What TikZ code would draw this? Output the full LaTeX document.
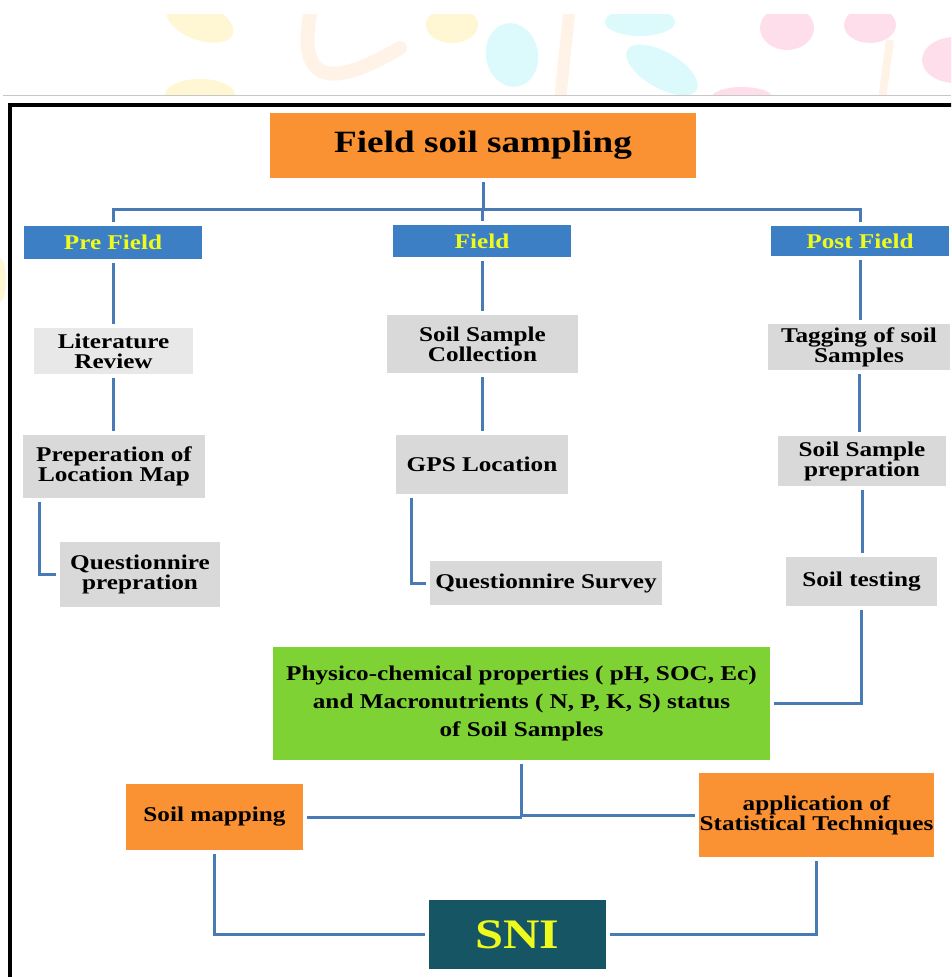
\documentclass[tikz,border=0pt]{standalone}
\usepackage{fontspec}
\setmainfont{Liberation Serif}[FakeStretch=1.2]
\definecolor{orangeB}{RGB}{250,145,50}
\definecolor{blueB}{RGB}{60,127,196}
\definecolor{yellowT}{RGB}{238,250,30}
\definecolor{grayB}{RGB}{217,217,217}
\definecolor{grayL}{RGB}{232,232,232}
\definecolor{lineC}{RGB}{72,122,182}
\definecolor{greenB}{RGB}{126,210,52}
\definecolor{tealB}{RGB}{22,86,100}
\definecolor{leafY}{RGB}{255,247,212}
\definecolor{leafC}{RGB}{220,250,252}
\definecolor{leafP}{RGB}{255,222,236}
\definecolor{leafO}{RGB}{255,243,232}
\tikzset{
  box/.style={draw=none, inner sep=0pt, align=center, font=\bfseries\fontsize{21}{20}\selectfont},
  hdr/.style={box, fill=blueB, text=yellowT, font=\bfseries\fontsize{21}{21}\selectfont},
  graybox/.style={box, fill=grayB},
  conn/.style={draw=lineC, line width=3pt, shorten <=4pt, shorten >=4pt}
}
\begin{document}
\begin{tikzpicture}[x=1pt,y=-1pt]
\clip (0,0) rectangle (951,977);
\fill[white] (0,0) rectangle (951,977);
% faint background leaves
\begin{scope}
\clip (0,14) rectangle (951,95);
\fill[leafY, rotate around={-20:(200,22)}] (200,22) ellipse [x radius=35, y radius=18];
\draw[leafO, line width=14pt, line cap=round] (312,5) .. controls (298,70) and (315,98) .. (400,48);
\fill[leafY] (452,25) ellipse [x radius=26, y radius=18];
\fill[leafC, rotate around={10:(512,55)}] (512,55) ellipse [x radius=26, y radius=32];
\fill[leafC] (640,22) ellipse [x radius=35, y radius=14];
\draw[leafO, line width=12pt] (570,5) -- (560,100);
\fill[leafC, rotate around={-30:(662,70)}] (662,70) ellipse [x radius=40, y radius=18];
\fill[leafP] (787,28) ellipse [x radius=27, y radius=22];
\fill[leafP] (870,25) ellipse [x radius=26, y radius=18];
\fill[leafP] (955,60) ellipse [x radius=33, y radius=23];
\fill[leafP] (742,97) ellipse [x radius=30, y radius=10];
\fill[leafY] (200,95) ellipse [x radius=35, y radius=16];
\draw[leafO, line width=8pt] (890,40) -- (882,100);
\end{scope}
\fill[leafY] (0,280) ellipse [x radius=6, y radius=22];
% separator and frame
\draw[black!22, line width=1pt] (3,95) -- (951,95);
\draw[black, line width=4pt] (10,985) -- (10,105) -- (960,105);
% nodes
\node[box, fill=orangeB, minimum width=426, minimum height=65, font=\bfseries\fontsize{31}{31}\selectfont] (title) at (483,145.5) {Field soil sampling};
\node[hdr, minimum width=178, minimum height=33] (pre) at (113,242.5) {Pre Field};
\node[hdr, minimum width=178, minimum height=32] (field) at (482,241) {Field};
\node[hdr, minimum width=178, minimum height=30] (post) at (860,241) {Post Field};
\node[box, fill=grayL, minimum width=159, minimum height=46] (lit) at (113.5,351) {Literature\\Review};
\node[graybox, minimum width=182, minimum height=63] (prep) at (114,466.5) {Preperation of\\Location Map};
\node[graybox, minimum width=160, minimum height=65] (qprep) at (140,574.5) {Questionnire\\prepration};
\node[graybox, minimum width=191, minimum height=58] (ssc) at (482.5,344) {Soil Sample\\Collection};
\node[graybox, minimum width=172, minimum height=59] (gps) at (482,464.5) {GPS Location};
\node[graybox, minimum width=232, minimum height=44] (qsurv) at (546,583) {Questionnire Survey};
\node[graybox, minimum width=182, minimum height=46] (tag) at (859,347) {Tagging of soil\\Samples};
\node[graybox, minimum width=168, minimum height=50] (ssp) at (862,461) {Soil Sample\\prepration};
\node[graybox, minimum width=151, minimum height=49] (test) at (861.5,581.5) {Soil testing};
\node[box, fill=greenB, minimum width=497, minimum height=113, font=\bfseries\fontsize{21}{28}\selectfont] (green) at (521.5,703.5) {Physico-chemical properties ( pH, SOC, Ec)\\and Macronutrients ( N, P, K, S) status\\of Soil Samples};
\node[box, fill=orangeB, minimum width=177, minimum height=66] (smap) at (214.5,817) {Soil mapping};
\node[box, fill=orangeB, minimum width=235, minimum height=84] (stat) at (816.5,815) {application of\\Statistical Techniques};
\node[box, fill=tealB, text=yellowT, minimum width=177, minimum height=69, font=\bfseries\fontsize{42}{42}\selectfont] (sni) at (517.5,934.5) {SNI};
% connectors
\coordinate (hub) at (483,209);
\coordinate (hub2) at (521,816);
\draw[conn, shorten >=0pt] (title.south) -- (title.south |- hub);
\draw[conn] (pre.north) -- (pre.north |- hub) -- (post.north |- hub) -- (post.north);
\draw[conn, shorten <=0pt] (hub -| field.north) -- (field.north);
\draw[conn] (pre.south) -- (pre.south |- lit.north);
\draw[conn] (lit.south) -- (lit.south |- prep.north);
\draw[conn] ([xshift=17pt]prep.south west) -- ([xshift=17pt]prep.south west |- qprep.west) -- (qprep.west);
\draw[conn] (field.south) -- (field.south |- ssc.north);
\draw[conn] (ssc.south) -- (ssc.south |- gps.north);
\draw[conn] ([xshift=16pt]gps.south west) -- ([xshift=16pt]gps.south west |- qsurv.west) -- (qsurv.west);
\draw[conn] (post.south) -- (post.south |- tag.north);
\draw[conn] (tag.south) -- (tag.south |- ssp.north);
\draw[conn] (ssp.south) -- (ssp.south |- test.north);
\draw[conn] (test.south) -- (test.south |- green.east) -- (green.east);
\draw[conn, shorten >=0pt] (green.south) -- (green.south |- hub2);
\draw[conn, shorten >=0pt] (smap.east) -- (green.south |- smap.east);
\draw[conn, shorten <=0pt] (green.south |- stat.west) -- (stat.west);
\draw[conn] (smap.south) -- (smap.south |- sni.west) -- (sni.west);
\draw[conn] (stat.south) -- (stat.south |- sni.east) -- (sni.east);
\end{tikzpicture}
\end{document}
